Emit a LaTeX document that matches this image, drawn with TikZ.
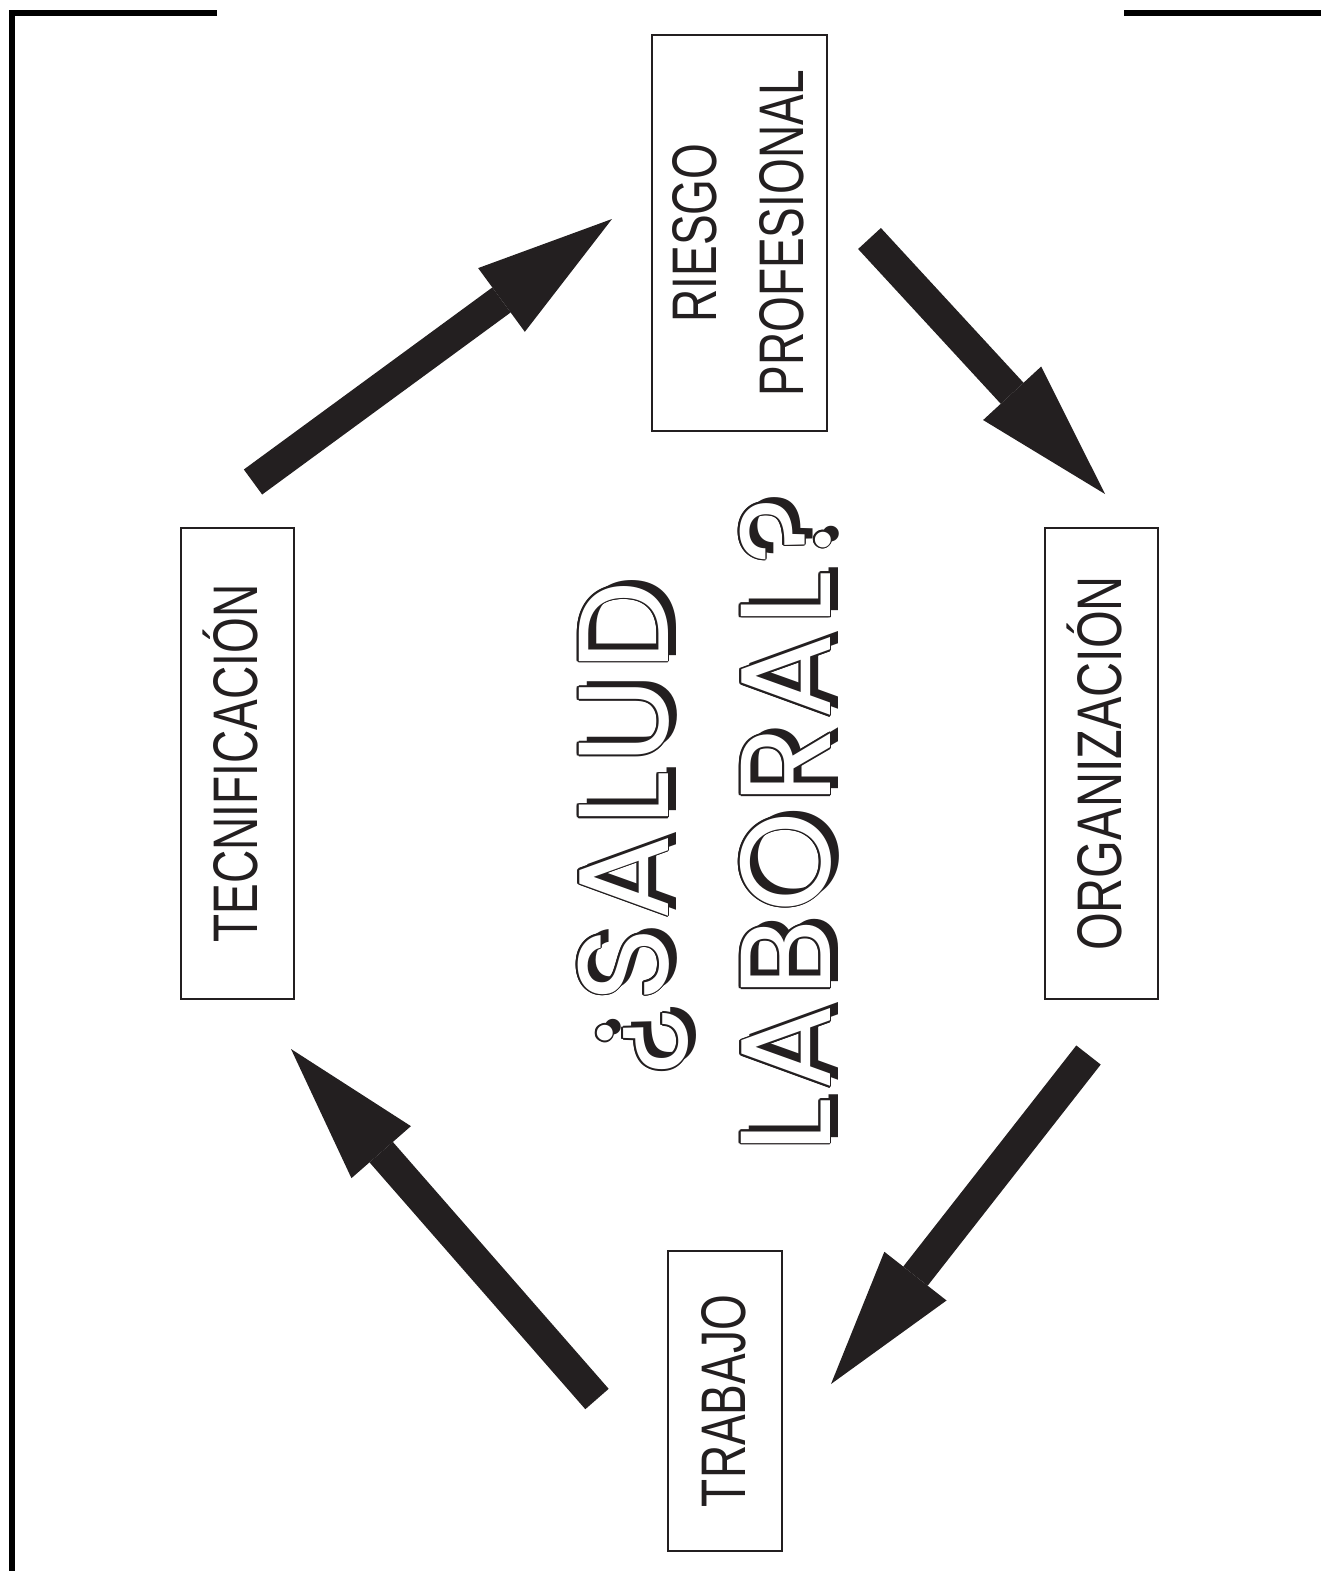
\documentclass[tikz,border=0pt]{standalone}
\usepackage{fontspec}
\usetikzlibrary{arrows.meta,calc}
\newfontfamily\boxfont[FakeStretch=0.73]{Liberation Sans}
\newfontfamily\wideboxfont[FakeStretch=0.77]{Liberation Sans}
\newfontfamily\titlefont{Poppins}
\definecolor{ink}{HTML}{231F20}
\newcommand\tg{\kern 7pt}
\newcommand\titleA{¿\tg S\tg A\tg L\tg U\tg D}
\newcommand\titleB{L\tg A\tg B\tg O\tg R\tg A\tg L\tg ?}
\begin{document}
\begin{tikzpicture}[x=1pt,y=1pt,
  stagebox/.style={draw=ink, line width=1.2pt, rotate=90, inner sep=0pt,
    font=\boxfont\fontsize{63}{87}\selectfont, text=ink, align=center,
    text height=40pt, text depth=0pt},
  bigarrow/.style={draw=ink, line width=31pt,
    -{Triangle[length=137pt,width=79pt,line width=0pt]}},
  framerule/.style={line width=5.7pt, black, miter limit=10},
  titletext/.style={font=\titlefont\fontsize{128}{140}\selectfont,
    rotate=90, anchor=base, inner sep=0pt, text=ink}]
\useasboundingbox (0,0) rectangle (1321,-1571);

% corner rules of the page frame
\coordinate (fl1) at (217,-12.8);
\coordinate (fl2) at (12.2,-12.8);
\coordinate (fl3) at (12.2,-1571);
\coordinate (fr1) at (1124,-12.8);
\coordinate (fr2) at (1321,-12.8);
\draw[framerule] (fl1) -- (fl2) -- (fl3);
\draw[framerule] (fr1) -- (fr2);

% the four stages of the cycle
\node[stagebox, minimum width=396pt, minimum height=175pt, text height=127pt]
  (riesgo) at (739.5,-233) {RIESGO\\PROFESIONAL};
\node[stagebox, minimum width=471pt, minimum height=113pt,
  font=\wideboxfont\fontsize{63}{87}\selectfont]
  (organiz) at (1101.5,-763.5) {ORGANIZACIÓN};
\node[stagebox, minimum width=300pt, minimum height=114pt]
  (trabajo) at (725,-1401) {TRABAJO};
\node[stagebox, minimum width=471pt, minimum height=113pt]
  (tecnif) at (237.5,-763.5) {TECNIFICACIÓN};

% arrow end points between the stages
\coordinate (a1s) at (253,-482);   \coordinate (a1e) at (612,-219);
\coordinate (a2s) at (869.5,-238.5); \coordinate (a2e) at (1105,-494);
\coordinate (a3s) at (1088.5,-1055); \coordinate (a3e) at (831,-1384);
\coordinate (a4s) at (597,-1399);  \coordinate (a4e) at (291,-1049);
\draw[bigarrow] (a1s) -- (a1e);
\draw[bigarrow] (a2s) -- (a2e);
\draw[bigarrow] (a3s) -- (a3e);
\draw[bigarrow] (a4s) -- (a4e);

% central title: drop shadow, thin outline, white letters
\coordinate (t1) at (668,-828);
\coordinate (t2) at (830,-825);
\node[titletext] at ($(t1)+(8.5,6)$) {\titleA};
\node[titletext] at ($(t2)+(8.5,6)$) {\titleB};
\foreach \a in {0,30,...,330} {
  \node[titletext] at ($(t1)+(\a:1.6pt)$) {\titleA};
  \node[titletext] at ($(t2)+(\a:1.6pt)$) {\titleB};
}
\node[titletext, text=white] (title1) at (t1) {\titleA};
\node[titletext, text=white] (title2) at (t2) {\titleB};
\end{tikzpicture}
\end{document}
